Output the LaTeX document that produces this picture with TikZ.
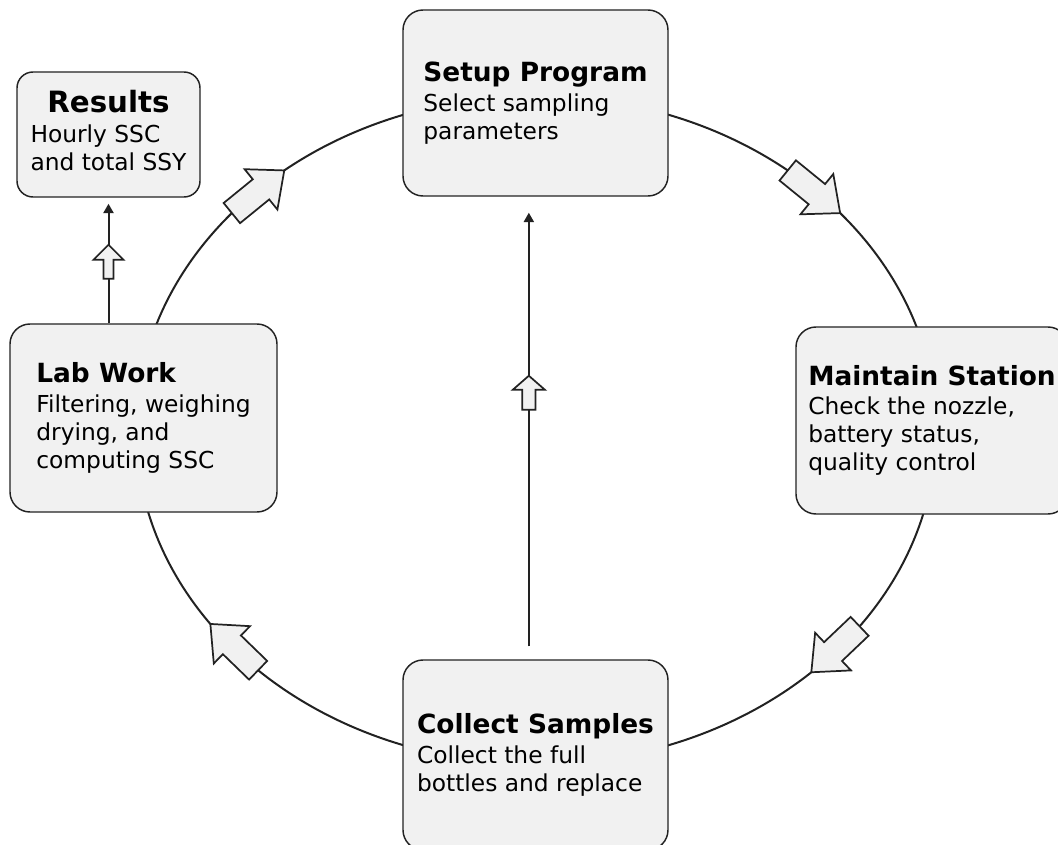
\documentclass[tikz,border=0pt]{standalone}
\usepackage{fontspec}
\setmainfont{DejaVu Sans}
\usetikzlibrary{arrows.meta,calc,positioning}
\definecolor{Ink}{HTML}{222222}
\definecolor{BoxFill}{HTML}{F1F1F1}
\newcommand{\stagetitle}[2][19.8]{{\fontsize{#1}{21}\selectfont\bfseries #2}}
% block arrow from #1 to #2: shaft half width, head half width, head length
\newcommand{\blockarrow}[5]{%
  \coordinate (ba-b) at ($(#2)!#5!(#1)$);
  \filldraw[blockarrow] ($(#1)!#3!90:(#2)$) -- ($(ba-b)!#3!-90:(#1)$)
    -- ($(ba-b)!#4!-90:(#1)$) -- (#2) -- ($(ba-b)!#4!90:(#1)$)
    -- ($(ba-b)!#3!90:(#1)$) -- ($(#1)!#3!-90:(#2)$) -- cycle;%
}

\begin{document}
\begin{tikzpicture}[x=0.75pt,y=-0.75pt,
    stage/.style={draw=Ink, fill=BoxFill, line width=1.1pt, rounded corners=15pt,
      align=left, inner sep=0pt, font=\fontsize{17.5}{21}\selectfont},
    cycleline/.style={draw=Ink, line width=1.5pt},
    flow/.style={draw=Ink, line width=1.5pt, -{Triangle[width=7.5pt,length=7pt]}},
    blockarrow/.style={draw=Ink, fill=BoxFill, line width=1.3pt, line join=miter}]
  \useasboundingbox (0,0) rectangle (1058,845);
  \coordinate (cyc) at (536,430);
  \draw[cycleline] (cyc) ellipse [x radius=300pt, y radius=250.5pt];

  % stages
  \node[stage, align=center, minimum width=137.25pt, minimum height=93.75pt, rounded corners=12pt] (res) at (108.5,134.5)
    {\stagetitle[22]{Results}\\[1.5pt]
     \begin{tabular}[t]{@{}l@{}}Hourly SSC\\ and total SSY\end{tabular}};
  \node[stage, minimum width=198.75pt, minimum height=139.5pt] (setup) at (535.5,103)
    {\stagetitle{Setup Program}\\[1pt] Select sampling\\ parameters};
  \node[stage, minimum width=204pt, minimum height=140.25pt] (maint) at (932,420.5)
    {\stagetitle{Maintain Station}\\[1pt] Check the nozzle,\\ battery status,\\ quality control};
  \node[stage, minimum width=200.25pt, minimum height=141pt] (lab) at (143.5,418)
    {\stagetitle{Lab Work}\\[1pt] Filtering, weighing\\ drying, and\\ computing SSC};
  \node[stage, minimum width=198.75pt, minimum height=142.5pt] (coll) at (535.5,755)
    {\stagetitle{Collect Samples}\\[1pt] Collect the full\\ bottles and replace};

  % straight links
  \draw[flow, shorten >=4.5pt] (lab.north -| res.south) -- (res.south);
  \draw[flow, shorten <=9.75pt, shorten >=12pt] ([xshift=-5pt]coll.north) -- ([xshift=-5pt]setup.south);

  % arrows on the cycle
  \foreach \from/\to [count=\i] in {139.5/129, 51/40.5, -36/-46.5, -134/-144.5} {
    \path ($(cyc)+(\from:300pt and 250.5pt)$) coordinate (t\i)
          ($(cyc)+(\to:300pt and 250.5pt)$) coordinate (h\i);
    \blockarrow{t\i}{h\i}{9.75pt}{19.5pt}{22.5pt}
  }

  % arrows on the straight links
  \path (res.south) ++(0,81) coordinate (ra-t) ++(0,-34) coordinate (ra-h);
  \blockarrow{ra-t}{ra-h}{3.75pt}{11.25pt}{11.25pt}
  \path ([xshift=-5pt]setup.south) ++(0,213) coordinate (ca-t) ++(0,-34) coordinate (ca-h);
  \blockarrow{ca-t}{ca-h}{5pt}{12pt}{10.5pt}
\end{tikzpicture}
\end{document}
